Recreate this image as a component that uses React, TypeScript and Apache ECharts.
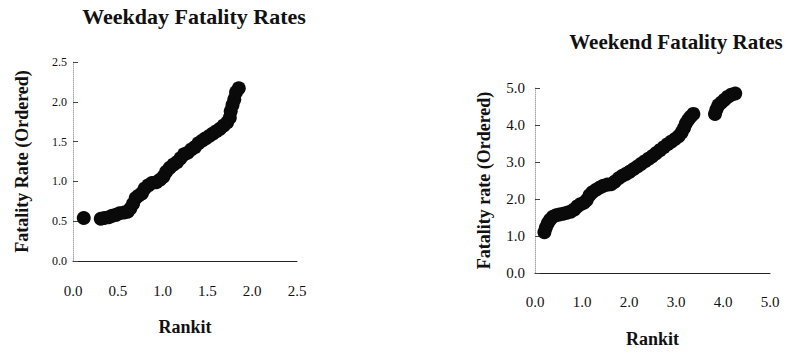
import React, { useEffect, useRef } from "react";
import * as echarts from "echarts";

// Weekday (left panel)
const weekdayRankit = [
  0.12, 0.31, 0.35, 0.4, 0.44, 0.48, 0.52, 0.57, 0.61, 0.64, 0.67, 0.7, 0.73, 0.77, 0.8, 0.84, 0.88, 0.93,
  0.97, 1.01, 1.04, 1.08, 1.12, 1.16, 1.2, 1.24, 1.28, 1.32, 1.36, 1.4, 1.44, 1.48, 1.52, 1.56, 1.6, 1.64,
  1.68, 1.72, 1.75, 1.76, 1.78, 1.8, 1.82, 1.85,
];
const weekdayRate = [
  0.54, 0.53, 0.54, 0.55, 0.57, 0.58, 0.6, 0.61, 0.62, 0.66, 0.72, 0.79, 0.82, 0.85, 0.91, 0.95, 0.98, 0.99,
  1.02, 1.06, 1.12, 1.17, 1.21, 1.24, 1.29, 1.34, 1.36, 1.4, 1.43, 1.48, 1.51, 1.54, 1.57, 1.6, 1.63, 1.66,
  1.7, 1.74, 1.8, 1.88, 1.96, 2.03, 2.12, 2.17,
];

// Weekend (right panel)
const weekendRankit = [
  0.2, 0.23, 0.27, 0.32, 0.38, 0.45, 0.52, 0.6, 0.68, 0.76, 0.84, 0.9, 0.97, 1.04, 1.1, 1.16, 1.22, 1.3,
  1.38, 1.46, 1.54, 1.62, 1.7, 1.78, 1.86, 1.94, 2.02, 2.1, 2.18, 2.26, 2.34, 2.42, 2.5, 2.58, 2.66, 2.74,
  2.82, 2.9, 2.98, 3.06, 3.12, 3.17, 3.21, 3.26, 3.31, 3.37, 3.83, 3.86, 3.9, 3.96, 4.03, 4.1, 4.18, 4.26,
];
const weekendRate = [
  1.1, 1.22, 1.34, 1.44, 1.52, 1.56, 1.58, 1.6, 1.63, 1.66, 1.72, 1.8, 1.86, 1.9, 1.97, 2.1, 2.18, 2.25,
  2.31, 2.36, 2.39, 2.4, 2.47, 2.56, 2.63, 2.68, 2.74, 2.81, 2.88, 2.95, 3.02, 3.09, 3.16, 3.24, 3.32, 3.4,
  3.48, 3.55, 3.62, 3.7, 3.8, 3.92, 4.04, 4.14, 4.22, 4.3, 4.3, 4.42, 4.53, 4.6, 4.68, 4.76, 4.82, 4.85,
];

const weekdayXLabels = ["0.0", "0.5", "1.0", "1.5", "2.0", "2.5"];
const weekdayYLabels = ["0.0", "0.5", "1.0", "1.5", "2.0", "2.5"];
const weekendXLabels = ["0.0", "1.0", "2.0", "3.0", "4.0", "5.0"];
const weekendYLabels = ["0.0", "1.0", "2.0", "3.0", "4.0", "5.0"];

const titles = ["Weekday Fatality Rates", "Weekend Fatality Rates"];
const xNames = ["Rankit", "Rankit"];
const yNames = ["Fatality Rate (Ordered)", "Fatality rate (Ordered)"];

const SERIF = "'Liberation Serif', 'Times New Roman', serif";

export default function App() {
  const ref = useRef<HTMLDivElement>(null);
  useEffect(() => {
    const chart = echarts.init(ref.current!, null, { renderer: "svg" });
    const xAxisBase = (labels: string[], size: number, margin: number, gap: number) => ({
      type: "value",
      name: "",
      nameLocation: "middle",
      nameGap: gap,
      nameTextStyle: { fontFamily: SERIF, fontWeight: "bold", fontSize: 18, color: "#111" },
      splitLine: { show: false },
      axisTick: { show: false },
      axisLine: { show: true, onZero: false, lineStyle: { color: "#222", width: 1 } },
      axisLabel: {
        fontFamily: SERIF,
        fontSize: size,
        color: "#111",
        margin,
        formatter: (_v: number, i: number) => labels[i],
      },
    });
    const yAxisBase = (labels: string[], size: number, margin: number, gap: number) => ({
      type: "value",
      nameLocation: "middle",
      nameGap: gap,
      nameTextStyle: { fontFamily: SERIF, fontWeight: "bold", fontSize: 18, color: "#111" },
      splitLine: { show: false },
      axisTick: { show: true, inside: true, length: 5, lineStyle: { color: "#444" } },
      axisLine: { show: true, lineStyle: { color: "#aaa", type: "dotted", width: 1 } },
      axisLabel: {
        fontFamily: SERIF,
        fontSize: size,
        color: "#111",
        margin,
        formatter: (_v: number, i: number) => labels[i],
      },
    });
    chart.setOption({
      animation: false,
      backgroundColor: "#fff",
      grid: [
        { left: 73, right: 500, top: 62, bottom: 92 },
        { left: 535, right: 27, top: 88, bottom: 77 },
      ],
      graphic: [
        {
          type: "text",
          x: 194,
          y: 5,
          style: {
            text: titles[0],
            fontFamily: SERIF,
            fontWeight: "bold",
            fontSize: 22,
            fill: "#111",
            align: "center",
            verticalAlign: "top",
          },
        },
        {
          type: "text",
          x: 676,
          y: 31,
          style: {
            text: titles[1],
            fontFamily: SERIF,
            fontWeight: "bold",
            fontSize: 21,
            fill: "#111",
            align: "center",
            verticalAlign: "top",
          },
        },
      ],
      xAxis: [
        { ...xAxisBase(weekdayXLabels, 15, 22, 57), gridIndex: 0, min: 0, max: 2.5, interval: 0.5, name: xNames[0] },
        { ...xAxisBase(weekendXLabels, 15, 21, 57), gridIndex: 1, min: 0, max: 5, interval: 1, name: xNames[1] },
      ],
      yAxis: [
        { ...yAxisBase(weekdayYLabels, 12, 6, 42), gridIndex: 0, min: 0, max: 2.5, interval: 0.5, name: yNames[0] },
        { ...yAxisBase(weekendYLabels, 15, 10, 42), gridIndex: 1, min: 0, max: 5, interval: 1, name: yNames[1] },
      ],
      series: [
        {
          type: "scatter",
          xAxisIndex: 0,
          yAxisIndex: 0,
          symbolSize: 14,
          itemStyle: { color: "#0a0a0a", opacity: 1 },
          data: weekdayRankit.map((x, i) => [x, weekdayRate[i]]),
        },
        {
          type: "scatter",
          xAxisIndex: 1,
          yAxisIndex: 1,
          symbolSize: 14,
          itemStyle: { color: "#0a0a0a", opacity: 1 },
          data: weekendRankit.map((x, i) => [x, weekendRate[i]]),
        },
      ],
    });
    return () => chart.dispose();
  }, []);
  return (
    <div
      ref={ref}
      style={{ position: "fixed", left: 0, top: 0, width: 797, height: 353, background: "#fff" }}
    />
  );
}
